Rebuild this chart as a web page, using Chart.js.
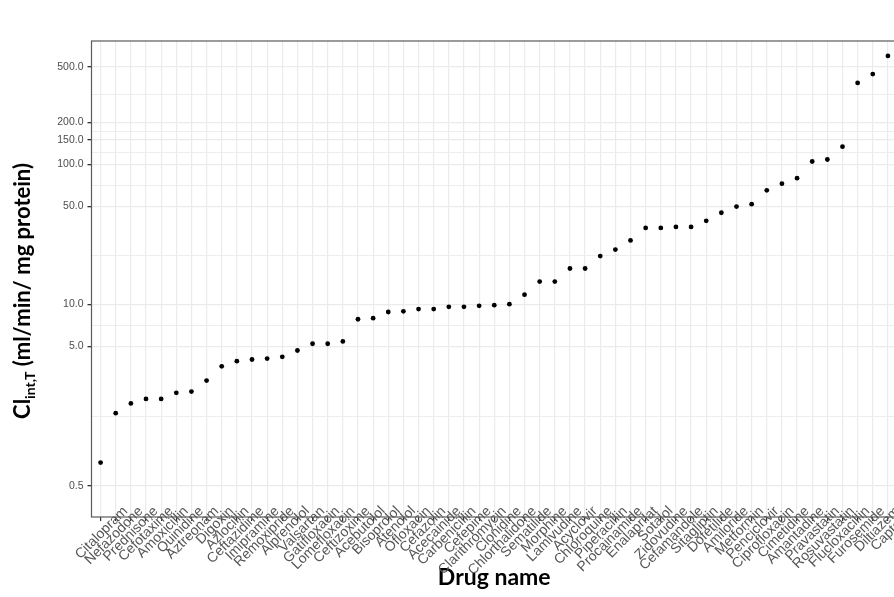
<!DOCTYPE html>
<html>
<head>
<meta charset="utf-8">
<script src="https://cdn.jsdelivr.net/npm/chart.js@4"></script>
<style>
  html, body { margin: 0; padding: 0; background: #fff; overflow: hidden; }
  #wrap { position: relative; width: 894px; height: 597px; overflow: hidden; }
  #chart { position: absolute; left: 0; top: 0; }
</style>
</head>
<body>
<div id="wrap"><canvas id="chart" width="902" height="597"></canvas></div>
<script>
// Drugs ordered by transporter-mediated intrinsic clearance
const drugs = [
  'Citalopram', 'Nefazodone', 'Prednisone', 'Cefotaxime', 'Amoxicillin',
  'Quinidine', 'Aztreonam', 'Digoxin', 'Azlocillin', 'Ceftazidime',
  'Imipramine', 'Remoxipride', 'Alprenolol', 'Valsartan', 'Gatifloxacin',
  'Lomefloxacin', 'Ceftizoxime', 'Acebutolol', 'Bisoprolol', 'Atenolol',
  'Ofloxacin', 'Cefazolin', 'Acecainide', 'Carbenicillin', 'Cefepime',
  'Clarithromycin', 'Clonidine', 'Chlorthalidone', 'Sematilide', 'Morphine',
  'Lamivudine', 'Acyclovir', 'Chloroquine', 'Piperacillin', 'Procainamide',
  'Enalaprilat', 'Sotalol', 'Zidovudine', 'Cefamandole', 'Sitagliptin',
  'Dofetilide', 'Amiloride', 'Metformin', 'Penciclovir', 'Ciprofloxacin',
  'Cimetidine', 'Amantadine', 'Pravastatin', 'Rosuvastatin', 'Flucloxacillin',
  'Furosemide', 'Diltiazem', 'Captopril'
];

// CLint,T in ml/min/mg protein
const clearance = [
  0.735, 1.66, 1.95, 2.10, 2.10, 2.32, 2.37, 2.84, 3.59, 3.91,
  4.02, 4.08, 4.20, 4.66, 5.21, 5.21, 5.41, 7.80, 7.94, 8.79,
  8.89, 9.22, 9.22, 9.57, 9.57, 9.73, 9.84, 10.0, 11.7, 14.5,
  14.5, 18.0, 18.0, 22.1, 24.6, 28.6, 35.1, 35.1, 35.7, 35.7,
  39.5, 45.1, 49.9, 51.9, 65.3, 72.8, 79.7, 104.9, 108.4, 133.9,
  383, 443, 597
];

// Labelled breaks on the log axis
const yBreaks = [0.5, 5, 10, 50, 100, 150, 200, 500];
const yBreakLabels = ['0.5', '5.0', '10.0', '50.0', '100.0', '150.0', '200.0', '500.0'];

// Minor grid lines sit halfway (in log space) between labelled breaks
const yMinor = [];
for (let i = 0; i < yBreaks.length - 1; i++) {
  yMinor.push(Math.sqrt(yBreaks[i] * yBreaks[i + 1]));
}
const yGrid = yBreaks.concat(yMinor).sort((a, b) => a - b);

function breakLabel(v) {
  for (let i = 0; i < yBreaks.length; i++) {
    if (Math.abs(v - yBreaks[i]) / yBreaks[i] < 1e-6) return yBreakLabels[i];
  }
  return '';
}

const tickFont = { family: '"Liberation Sans", Arial, sans-serif', size: 10.5 };
const xTickFont = { family: '"Liberation Sans", Arial, sans-serif', size: 14 };

// Framed panel like a bordered plot theme
const panelBorder = {
  id: 'panelBorder',
  afterDatasetsDraw(chart) {
    const { ctx, chartArea: a } = chart;
    ctx.save();
    ctx.strokeStyle = '#5a5a5a';
    ctx.lineWidth = 1.2;
    ctx.strokeRect(a.left, a.top, a.right - a.left, a.bottom - a.top);
    ctx.restore();
  }
};

// Let the slanted drug names run up over the panel's lower edge
const freeLabels = {
  id: 'freeLabels',
  afterLayout(chart) {
    chart.scales.x._computeLabelArea = () => undefined;
  }
};

// Y axis title with a subscript: Cl(int,T) (ml/min/ mg protein)
const yTitle = {
  id: 'yTitle',
  afterDraw(chart) {
    const ctx = chart.ctx;
    const a = chart.chartArea;
    const big = 'bold 22px Lato, "Open Sans", sans-serif';
    const small = 'bold 14px Lato, "Open Sans", sans-serif';
    const parts = [
      { t: 'Cl', f: big, dy: 0 },
      { t: 'int,T', f: small, dy: 5 },
      { t: ' (ml/min/ mg protein)', f: big, dy: 0 }
    ];
    ctx.save();
    let total = 0;
    parts.forEach(p => { ctx.font = p.f; p.w = ctx.measureText(p.t).width; total += p.w; });
    ctx.translate(30, (a.top + a.bottom) / 2 + 12);
    ctx.rotate(-Math.PI / 2);
    ctx.fillStyle = '#000';
    ctx.textBaseline = 'alphabetic';
    ctx.textAlign = 'left';
    let x = -total / 2;
    parts.forEach(p => { ctx.font = p.f; ctx.fillText(p.t, x, p.dy); x += p.w; });
    ctx.restore();
  }
};

const isMinor = c => c.tick && breakLabel(c.tick.value) === '';

new Chart(document.getElementById('chart'), {
  type: 'scatter',
  data: {
    datasets: [{
      data: clearance.map((v, i) => ({ x: i + 1, y: v })),
      backgroundColor: '#000',
      borderColor: '#000',
      borderWidth: 0,
      pointRadius: 2.4,
      pointHoverRadius: 2.4
    }]
  },
  options: {
    responsive: false,
    animation: false,
    events: [],
    layout: { padding: { top: 41, right: 5, left: 0, bottom: 0 } },
    plugins: { legend: { display: false }, tooltip: { enabled: false } },
    scales: {
      x: {
        type: 'linear',
        min: 0.4,
        max: drugs.length + 0.6,
        afterBuildTicks: s => { s.ticks = drugs.map((_, i) => ({ value: i + 1 })); },
        afterFit: s => { s.height = 80; s.paddingLeft = 0; s.paddingRight = 0; },
        grid: { color: '#ebebeb', lineWidth: 1.2, tickLength: 4, tickColor: '#333' },
        border: { display: false },
        ticks: {
          autoSkip: false,
          minRotation: 45,
          maxRotation: 45,
          padding: -18,
          labelOffset: 25,
          color: '#555',
          font: xTickFont,
          callback: v => drugs[Math.round(v) - 1] || ''
        },
        title: {
          display: true,
          text: 'Drug name',
          color: '#000',
          font: { family: 'Lato, "Open Sans", sans-serif', weight: 'bold', size: 23 },
          padding: { top: 0, bottom: 6 }
        }
      },
      y: {
        type: 'logarithmic',
        min: 0.346,
        max: 764,
        afterBuildTicks: s => { s.ticks = yGrid.map(v => ({ value: v })); },
        afterFit: s => { s.width = 91.5; },
        grid: {
          color: '#ebebeb',
          lineWidth: c => (isMinor(c) ? 0.9 : 1.3),
          tickLength: 4,
          tickColor: c => (isMinor(c) ? 'rgba(0,0,0,0)' : '#333')
        },
        border: { display: false },
        ticks: {
          autoSkip: false,
          padding: 4,
          color: '#4d4d4d',
          font: tickFont,
          callback: v => breakLabel(v)
        }
      }
    }
  },
  plugins: [freeLabels, panelBorder, yTitle]
});
</script>
</body>
</html>
